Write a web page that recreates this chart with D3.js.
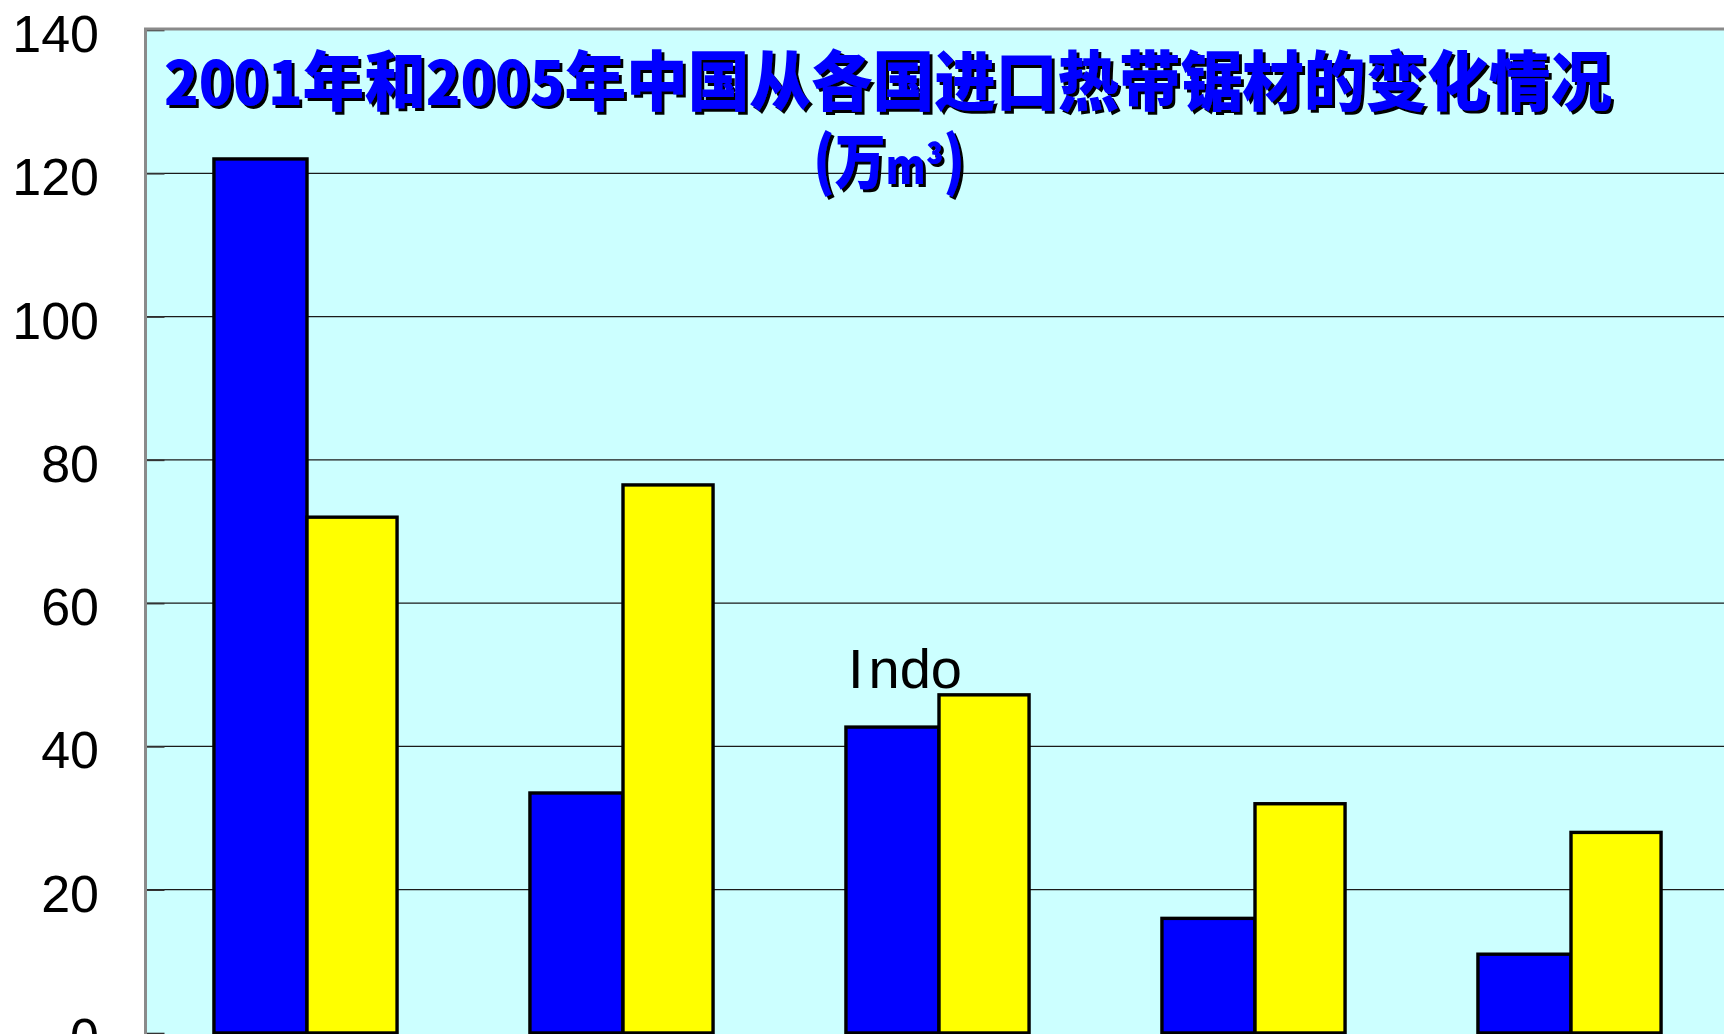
<!DOCTYPE html>
<html>
<head>
<meta charset="utf-8">
<script src="https://cdn.jsdelivr.net/npm/d3@7/dist/d3.min.js"></script>
<style>
  html, body { margin: 0; padding: 0; background: #ffffff; overflow: hidden; }
  svg { display: block; }
</style>
</head>
<body>
<svg id="chart" width="1724" height="1034"></svg>
<script>
// ---- data ----
const categories = ["C1", "C2", "Indo", "C4", "C5"];
const seriesNames = ["2001", "2005"];
const values2001 = [122, 33.5, 42.7, 16, 11];
const values2005 = [72, 76.5, 47.2, 32, 28];
const yTicks = [0, 20, 40, 60, 80, 100, 120, 140];
const titleParts = [
  ["2001", "d"], ["年和", "c"], ["2005", "d"], ["年中国从各国进口热带锯材的变化情况", "c"]
];
const annotation = { category: "Indo", text: "Indo" };

const W = 1724, H = 1034;
const plotLeft = 145.5, plotTop = 30, plotBottom = 1033;
const svg = d3.select("#chart");

// drop shadow filter for the title
const defs = svg.append("defs");
const f = defs.append("filter").attr("id", "shadow")
  .attr("x", "-5%").attr("y", "-20%").attr("width", "110%").attr("height", "150%");
f.append("feDropShadow").attr("dx", 3).attr("dy", 3).attr("stdDeviation", 0.4)
  .attr("flood-color", "#000").attr("flood-opacity", 1);

const y = d3.scaleLinear().domain([0, 140]).range([plotBottom, plotTop]);
const x = d3.scaleBand().domain(categories).range([149, 149 + 316 * categories.length])
  .paddingInner(0.43).paddingOuter(0.215);
const xs = d3.scaleBand().domain(seriesNames).range([0, x.bandwidth()]);
const colors = { "2001": "#0000ff", "2005": "#ffff00" };

// plot background
svg.append("rect").attr("x", plotLeft).attr("y", plotTop).attr("width", W - plotLeft).attr("height", H - plotTop)
  .attr("fill", "#ccffff");

// gridlines
svg.append("g").selectAll("line").data(yTicks.filter(d => d > 0 && d < 140)).join("line")
  .attr("x1", plotLeft).attr("x2", W).attr("y1", d => y(d)).attr("y2", d => y(d))
  .attr("stroke", "#1a1a1a").attr("stroke-width", 1.2);

// bars (the first series is drawn a touch wider on its left, as in the original)
const rows = categories.map((c, i) => ({ c, v: { "2001": values2001[i], "2005": values2005[i] } }));
const extraLeft = { "2001": 3, "2005": 0 };
seriesNames.forEach(s => {
  svg.append("g").selectAll("rect").data(rows).join("rect")
    .attr("x", d => x(d.c) + xs(s) - extraLeft[s])
    .attr("width", xs.bandwidth() + extraLeft[s])
    .attr("y", d => y(d.v[s]))
    .attr("height", d => y(0) - y(d.v[s]))
    .attr("fill", colors[s]).attr("stroke", "#000").attr("stroke-width", 3.4);
});

// axis (left) with inward ticks
const yAxis = d3.axisRight(y).tickValues(yTicks).tickSize(19).tickFormat("");
const ag = svg.append("g").attr("transform", `translate(${plotLeft},0)`).call(yAxis);
ag.select(".domain").remove();
ag.selectAll(".tick line").attr("stroke", "#333").attr("stroke-width", 1.6);

// left axis line and top border
svg.append("line").attr("x1", plotLeft).attr("x2", plotLeft).attr("y1", plotTop - 1.5).attr("y2", H)
  .attr("stroke", "#8a8a8a").attr("stroke-width", 3);
svg.append("line").attr("x1", plotLeft - 1.5).attr("x2", W).attr("y1", plotTop - 1).attr("y2", plotTop - 1)
  .attr("stroke", "#8a8a8a").attr("stroke-width", 3);

// tick labels
svg.append("g").selectAll("text").data(yTicks).join("text")
  .attr("x", 99).attr("y", d => y(d) + 22)
  .attr("text-anchor", "end")
  .attr("font-family", "'Liberation Sans', Arial, sans-serif")
  .attr("font-size", 52).attr("fill", "#000")
  .text(d => d);

// annotation
const ann = svg.append("text")
  .attr("x", x(annotation.category) + xs("2001") - 1)
  .attr("y", 688)
  .attr("font-family", "'Liberation Sans', Arial, sans-serif")
  .attr("font-size", 56).attr("fill", "#000");
ann.append("tspan").text(annotation.text.slice(0, 1));
ann.append("tspan").attr("dx", 5).text(annotation.text.slice(1));

// title (blue with black shadow)
const t = svg.append("text")
  .attr("x", 164).attr("y", 105)
  .attr("textLength", 1448).attr("lengthAdjust", "spacingAndGlyphs")
  .attr("font-weight", 900).attr("fill", "#0000ff").attr("filter", "url(#shadow)");
titleParts.forEach(([s, k]) => {
  t.append("tspan")
    .attr("font-family", "'Noto Sans CJK SC', sans-serif")
    .attr("font-size", k === "d" ? 60 : 65)
    .text(s);
});
const u = svg.append("text")
  .attr("x", 813).attr("y", 184)
  .attr("textLength", 152).attr("lengthAdjust", "spacingAndGlyphs")
  .attr("font-weight", 900).attr("fill", "#0000ff").attr("filter", "url(#shadow)")
  .attr("font-family", "'Noto Sans CJK SC', sans-serif");
u.append("tspan").attr("font-size", 64).text("(");
u.append("tspan").attr("font-size", 60).text("万");
u.append("tspan").attr("font-size", 48).text("m³");
u.append("tspan").attr("font-size", 64).text(")");
</script>
</body>
</html>
